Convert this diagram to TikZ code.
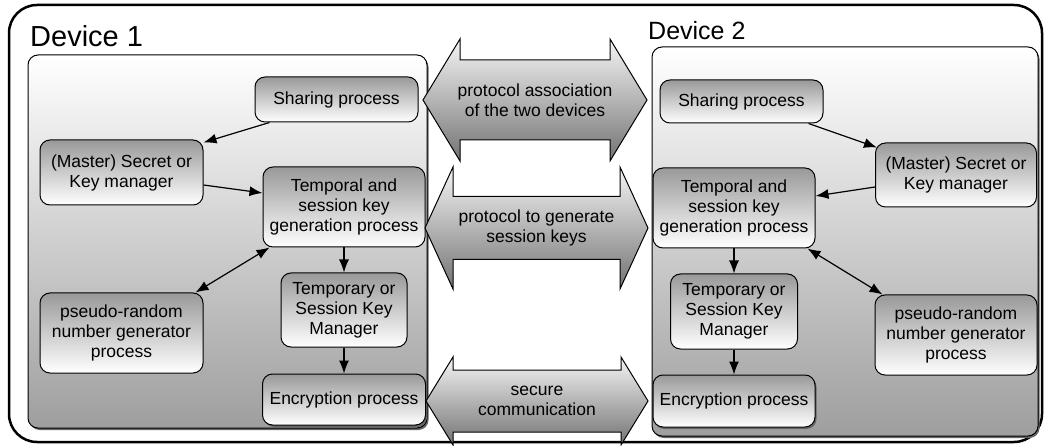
\documentclass[tikz,border=0pt]{standalone}
\usepackage{fontspec}
\setmainfont{Liberation Sans}
\usetikzlibrary{positioning,arrows.meta,shadows}

% two-headed link between the devices: name, left x, right x, centre y,
% half head height, half shaft height, head length, text
\newcommand{\linkarrow}[8]{%
	\path[link] (#2,#4) -- (#2+#7,#4-#5) -- (#2+#7,#4-#6) -- (#3-#7,#4-#6)
		-- (#3-#7,#4-#5) -- (#3,#4) -- (#3-#7,#4+#5) -- (#3-#7,#4+#6)
		-- (#2+#7,#4+#6) -- (#2+#7,#4+#5) -- cycle;
	\node[linktext] (#1) at ({(#2+#3)/2},#4) {#8};}

\tikzset{
	lowshadow/.style={drop shadow={shadow xshift=1.5pt,shadow yshift=-2pt,fill=black!60,opacity=1}},
	devbox/.style={draw=black,line width=1pt,rounded corners=10pt,top color=white,bottom color=black!38,lowshadow},
	proc/.style={draw=black,line width=1pt,rounded corners=10pt,top color=black!40,bottom color=white,
		align=center,inner sep=2pt,font=\fontsize{17.5}{20}\selectfont},
	link/.style={draw=black,line width=1pt,top color=black!4,bottom color=black!55},
	linktext/.style={align=center,inner sep=0pt,font=\fontsize{17.5}{20}\selectfont},
	flow/.style={-{Latex[length=13pt,width=10pt]},line width=1.2pt},
	both/.style={{Latex[length=13pt,width=10pt]}-{Latex[length=13pt,width=10pt]},line width=1.2pt}
}

\begin{document}
\begin{tikzpicture}[x=1pt,y=-1pt]
	\useasboundingbox (0,0) rectangle (1044,446);
	\draw[line width=2.5pt,rounded corners=28pt] (9,5) rectangle (1042,442);

	\node[anchor=base west,inner sep=0pt,font=\fontsize{29}{34}\selectfont] (lab1) at (30,47) {Device 1};
	\node[anchor=base west,inner sep=0pt,font=\fontsize{25}{30}\selectfont] (lab2) at (648,40) {Device 2};

	\path[devbox] (28,55) rectangle (427,428);
	\path[devbox] (652,47) rectangle (1038,436);

	% device 1
	\node[proc,minimum width=163pt,minimum height=45pt] (share1) at (336.5,99.5) {Sharing process};
	\node[proc,minimum width=163pt,minimum height=65pt] (master1) at (121.5,172.5) {(Master) Secret or\\Key manager};
	\node[proc,minimum width=162pt,minimum height=80pt] (temp1) at (344,207) {Temporal and\\session key\\generation process};
	\node[proc,minimum width=163pt,minimum height=80pt] (prng1) at (121.5,333) {pseudo-random\\number generator\\process};
	\node[proc,minimum width=126pt,minimum height=74pt,below=25pt of temp1] (sess1) {Temporary or\\Session Key\\Manager};
	\node[proc,minimum width=163pt,minimum height=51pt,lowshadow,below=26pt of sess1] (enc1) {Encryption process};

	% device 2
	\node[proc,minimum width=163pt,minimum height=43pt] (share2) at (741.5,101.5) {Sharing process};
	\node[proc,minimum width=161pt,minimum height=64pt] (master2) at (956,175) {(Master) Secret or\\Key manager};
	\node[proc,minimum width=162pt,minimum height=80pt] (temp2) at (734,208) {Temporal and\\session key\\generation process};
	\node[proc,minimum width=127pt,minimum height=75pt,below=25pt of temp2] (sess2) {Temporary or\\Session Key\\Manager};
	\node[proc,minimum width=162pt,minimum height=80pt] (prng2) at (956,335) {pseudo-random\\number generator\\process};
	\node[proc,minimum width=162pt,minimum height=52pt,lowshadow,below=25pt of sess2] (enc2) {Encryption process};

	% links between the devices
	\linkarrow{assoc}{423}{647}{100}{61}{40}{37}{protocol association\\of the two devices}
	\linkarrow{keys}{425}{648}{228}{61}{31.5}{28}{protocol to generate\\session keys}
	\linkarrow{secure}{426}{648}{401}{44}{31}{27}{secure\\communication}

	\draw[flow] ([xshift=15pt]share1.south west) -- ([yshift=-3pt]master1.north east);
	\draw[flow] ([yshift=-12.5pt]master1.east) -- ([yshift=14pt]temp1.west);
	\draw[both] ([xshift=-8pt]prng1.north east) -- ([xshift=7pt]temp1.south west);
	\draw[flow] (temp1) -- (sess1);
	\draw[flow] (sess1) -- (enc1);

	\draw[flow] ([xshift=-15pt]share2.south east) -- ([xshift=2pt,yshift=-5pt]master2.north west);
	\draw[flow] ([yshift=-12pt]master2.west) -- ([yshift=12pt]temp2.east);
	\draw[both] ([xshift=-8pt]temp2.south east) -- ([xshift=8pt]prng2.north west);
	\draw[flow] (temp2) -- (sess2);
	\draw[flow] (sess2) -- (enc2);
\end{tikzpicture}
\end{document}
